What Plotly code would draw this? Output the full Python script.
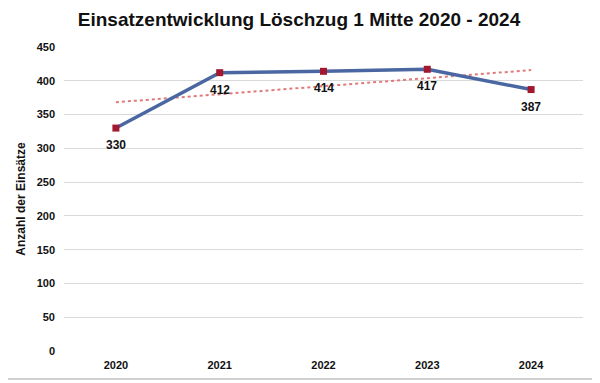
import numpy as np
import plotly.graph_objects as go

years = ["2020", "2021", "2022", "2023", "2024"]
einsaetze = [330, 412, 414, 417, 387]
y_ticks = [0, 50, 100, 150, 200, 250, 300, 350, 400, 450]

# linear trendline (as in the original spreadsheet chart)
xi = np.arange(len(einsaetze))
slope, intercept = np.polyfit(xi, einsaetze, 1)
trend = list(slope * xi + intercept)

fig = go.Figure()
fig.add_trace(go.Scatter(
    x=years, y=trend, mode="lines",
    line=dict(color="#e07a7a", width=2, dash="dot"),
    hoverinfo="skip", showlegend=False,
))
fig.add_trace(go.Scatter(
    x=years, y=einsaetze, mode="lines+markers",
    line=dict(color="#4a67a1", width=3.5),
    marker=dict(symbol="square", size=7, color="#a3182f"),
    showlegend=False,
))

# data labels below the points (x given as category index)
for i, v in enumerate(einsaetze):
    fig.add_annotation(
        x=i, y=v, xref="x", yref="y", text=f"<b>{v}</b>", showarrow=False, yshift=-17,
        font=dict(family="Liberation Sans, Arial", size=12, color="#111111"),
    )

# faint frame line at the bottom of the image
fig.add_shape(type="line", xref="paper", yref="paper", x0=-0.2, x1=1.1, y0=-0.092, y1=-0.092,
              line=dict(color="#d0d0d0", width=2))

fig.update_layout(
    width=592, height=375,
    margin=dict(l=52, r=17, t=39, b=29),
    paper_bgcolor="white", plot_bgcolor="white",
    title=dict(
        text="<b>Einsatzentwicklung Löschzug 1 Mitte 2020 - 2024</b>",
        x=0.4916, xanchor="center", xref="container", y=0.97, yanchor="middle",
        font=dict(family="Liberation Sans, Arial", size=19, color="#111111"),
    ),
    xaxis=dict(
        type="category", range=[-0.5, 4.5], showgrid=False, showline=False, zeroline=False,
        tickfont=dict(family="Liberation Sans Narrow, Arial Narrow, Liberation Sans", size=11, color="#111111", weight="bold"),
        ticks="", ticklabelstandoff=6,
    ),
    yaxis=dict(
        range=[0, 450], tickvals=y_ticks, showgrid=True, gridcolor="#d9d9d9", gridwidth=1,
        zeroline=False, showline=False, ticks="", ticklabelstandoff=8,
        tickfont=dict(family="Liberation Sans Narrow, Arial Narrow, Liberation Sans", size=11, color="#111111", weight="bold"),
        title=dict(text="<b>Anzahl der Einsätze</b>", standoff=8,
                   font=dict(family="Liberation Sans, Arial", size=12, color="#111111")),
    ),
)

fig.write_html("out.html")
